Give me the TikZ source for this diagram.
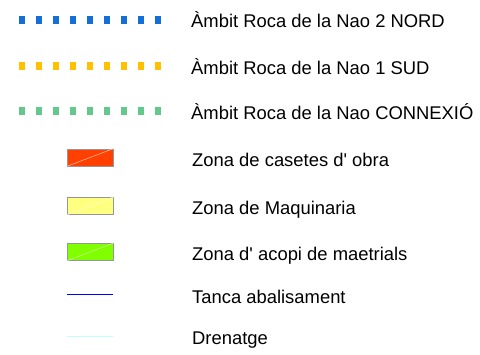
\documentclass[tikz,border=0pt]{standalone}
\usepackage{fontspec}
\setmainfont{Liberation Sans}
\definecolor{dotblue}{RGB}{20,110,215}
\definecolor{dotyellow}{RGB}{255,192,0}
\definecolor{dotgreen}{RGB}{100,200,140}
\definecolor{zorange}{RGB}{255,64,0}
\definecolor{zyellow}{RGB}{255,255,128}
\definecolor{zgreen}{RGB}{128,255,0}
\definecolor{edgegray}{RGB}{150,150,150}
\definecolor{tblue}{RGB}{0,0,255}
\definecolor{dcyan}{RGB}{190,255,255}
\tikzset{
  lbl/.style={anchor=base west, inner sep=0pt, font=\fontsize{18.4}{20}\selectfont},
  sq/.style={inner sep=0pt, minimum width=6pt, minimum height=8pt, draw=none},
  zonebox/.style={inner sep=0pt, minimum width=46pt, minimum height=17pt, draw=edgegray, line width=0.8pt},
}
\begin{document}
\begin{tikzpicture}[x=1pt,y=-1pt]
\useasboundingbox (0,0) rectangle (480,354);
% dotted legend rows
\foreach \i in {0,...,8}{
  \node[sq, fill=dotblue] (b\i) at (22+17*\i,20) {};
  \node[sq, fill=dotyellow] (y\i) at (22+17*\i,66) {};
  \node[sq, fill=dotgreen] (g\i) at (22+17*\i,111) {};
}
\node[lbl] (t1) at (191,27) {Àmbit Roca de la Nao 2 NORD};
\node[lbl] (t2) at (191,74) {Àmbit Roca de la Nao 1 SUD};
\node[lbl] (t3) at (191,119) {Àmbit Roca de la Nao CONNEXIÓ};
% zone boxes
\node[zonebox, fill=zorange] (zo) at (90,157.5) {};
\draw[white!70!zorange, line width=0.5pt] (zo.south west) -- (zo.north east);
\node[zonebox, fill=zyellow] (zy) at (90,206) {};
\draw[white!60!zyellow, line width=0.5pt] (zy.south west) -- (zy.north east);
\node[zonebox, fill=zgreen] (zg) at (90,252) {};
\draw[white!60!zgreen, line width=0.5pt] (zg.south west) -- (zg.north east);
\node[lbl] (t4) at (192,166.5) {Zona de casetes d\textquotesingle{} obra};
\node[lbl] (t5) at (192,214) {Zona de Maquinaria};
\node[lbl] (t6) at (192,260) {Zona d\textquotesingle{} acopi de maetrials};
% lines
\coordinate (l1a) at (67,294.5);
\coordinate (l1b) at (113,294.5);
\draw[tblue, line width=1.3pt] (l1a) -- (l1b);
\coordinate (l2a) at (67,336.5);
\coordinate (l2b) at (113,336.5);
\draw[dcyan, line width=1.3pt] (l2a) -- (l2b);
\node[lbl] (t7) at (192,303.5) {Tanca abalisament};
\node[lbl] (t8) at (192,344) {Drenatge};
\end{tikzpicture}
\end{document}
